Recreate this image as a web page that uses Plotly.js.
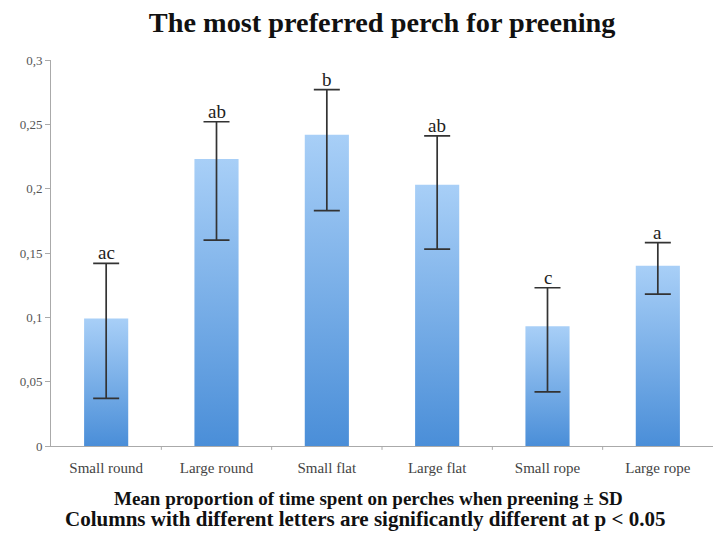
<!DOCTYPE html>
<html><head><meta charset="utf-8">
<script src="https://cdn.plot.ly/plotly-3.0.1.min.js"></script>
<style>body{margin:0;background:#fff}#c{width:713px;height:533px}</style>
</head><body><div id="c"></div>
<script>
const categories = ["Small round","Large round","Small flat","Large flat","Small rope","Large rope"];
const means = [0.099, 0.223, 0.242, 0.203, 0.093, 0.140];
const upperSD = [0.142, 0.252, 0.277, 0.241, 0.123, 0.158];
const lowerSD = [0.037, 0.160, 0.183, 0.153, 0.042, 0.118];
const letters = ["ac","ab","b","ab","c","a"];
const tickVals = [0,0.05,0.1,0.15,0.2,0.25,0.3];
const tickText = ["0","0,05","0,1","0,15","0,2","0,25","0,3"];

const serif = "Liberation Serif, Times New Roman, serif";
const trace = {
  type:"bar", x: categories.map((c,i)=>i), y: means, width:0.4,
  marker:{color:"#78aee8", line:{width:0}},
  error_y:{type:"data", symmetric:false,
    array: upperSD.map((u,i)=>u-means[i]),
    arrayminus: lowerSD.map((l,i)=>means[i]-l),
    color:"#333", thickness:1.7, width:13},
  hoverinfo:"none"
};
const ann = letters.map((t,i)=>({x:i, y:upperSD[i], xref:"x", yref:"y", text:t, showarrow:false,
  yanchor:"bottom", yshift:-2, font:{family:serif, size:19, color:"#222"}}));
ann.push({xref:"paper", yref:"paper", x:0.48, y:-0.135, xanchor:"center", yanchor:"middle", showarrow:false,
  text:"<b>Mean proportion of time spent on perches when preening ± SD</b>", font:{family:serif,size:19,color:"#111"}});
ann.push({xref:"paper", yref:"paper", x:0.475, y:-0.188, xanchor:"center", yanchor:"middle", showarrow:false,
  text:"<b>Columns with different letters are significantly different at p < 0.05</b>", font:{family:serif,size:21,color:"#111"}});

const layout = {
  width:713, height:533, margin:{l:51, r:0, t:60, b:87},
  paper_bgcolor:"#fff", plot_bgcolor:"#fff", showlegend:false,
  title:{text:"<b>The most preferred perch for preening</b>", x:0.536, xanchor:"center", y:0.958, yanchor:"middle",
    font:{family:serif, size:28.3, color:"#111"}},
  xaxis:{range:[-0.5,5.5], tickvals:[0,1,2,3,4,5], ticktext:categories, showgrid:false, zeroline:false,
    showline:true, linecolor:"#aaa", linewidth:1, ticks:"", ticklabelstandoff:8,
    tickfont:{family:serif,size:15,color:"#444"}},
  yaxis:{range:[0,0.3], tickvals:tickVals, ticktext:tickText, showgrid:false, zeroline:false,
    showline:true, linecolor:"#aaa", linewidth:1, ticks:"outside", ticklen:5, tickcolor:"#aaa",
    tickfont:{family:serif,size:13,color:"#555"}},
  shapes: categories.slice(1).map((c,i)=>({type:"line", xref:"x", yref:"paper", x0:i+0.5, x1:i+0.5, y0:0, y1:-0.01, line:{color:"#aaa",width:1}})),
  annotations: ann
};
Plotly.newPlot("c",[trace],layout,{staticPlot:true}).then(()=>{
  const svg = document.querySelector("#c svg.main-svg");
  const ns = "http://www.w3.org/2000/svg";
  let defs = svg.querySelector("defs");
  const g = document.createElementNS(ns,"linearGradient");
  g.setAttribute("id","barGrad"); g.setAttribute("x1","0"); g.setAttribute("y1","0"); g.setAttribute("x2","0"); g.setAttribute("y2","1");
  [["0","#a8cff7"],["1","#4a8ed8"]].forEach(([o,c])=>{const s=document.createElementNS(ns,"stop");s.setAttribute("offset",o);s.setAttribute("stop-color",c);g.appendChild(s);});
  defs.appendChild(g);
  document.querySelectorAll("#c .bars .point path").forEach(p=>{p.style.fill="url(#barGrad)";});
});
</script></body></html>
